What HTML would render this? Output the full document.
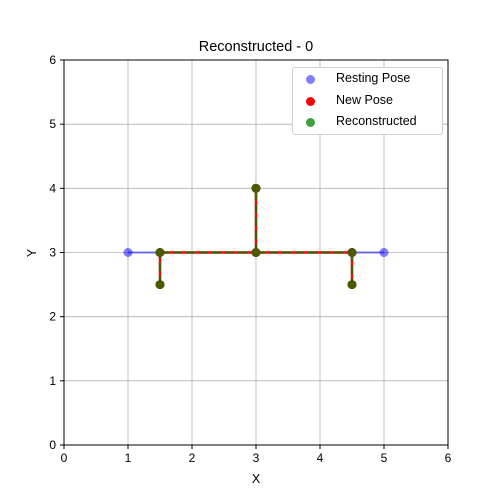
<!DOCTYPE html>
<html><head><meta charset="utf-8"><style>body{margin:0;background:#fff}svg{display:block;font-family:"Liberation Sans","DejaVu Sans",sans-serif}</style></head>
<body>
<svg id="c" width="500" height="500"></svg>
<script>
const ticks=[0,1,2,3,4,5,6];
const restX=[1,1.5,3,3,4.5,5];
const restY=[3,3,3,4,3,3];
const restEdges=[[0,1],[1,2],[2,3],[2,4],[4,5]];
const newX=[1.5,1.5,3,3,4.5,4.5];
const newY=[2.5,3,3,4,3,2.5];
const newEdges=[[0,1],[1,2],[2,3],[2,4],[4,5]];
const recX=[1.5,1.5,3,3,4.5,4.5];
const recY=[2.5,3,3,4,3,2.5];
const NS="http://www.w3.org/2000/svg";
const svg=document.getElementById('c');
const L=64,R=448,T=60,B=445;
const sx=v=>L+(v-0)/6*(R-L), sy=v=>B-(v-0)/6*(B-T);
function mk(t,a,p){const e=document.createElementNS(NS,t);for(const k in a)e.setAttribute(k,a[k]);(p||svg).appendChild(e);return e;}
ticks.forEach(t=>{
 let g=mk('line',{x1:sx(t),x2:sx(t),y1:T,y2:B,stroke:'#b0b0b0','stroke-width':0.8});
 
 g=mk('line',{x1:L,x2:R,y1:sy(t),y2:sy(t),stroke:'#b0b0b0','stroke-width':0.8});
 
 mk('line',{x1:sx(t),x2:sx(t),y1:B,y2:B+4,stroke:'#000'});
 mk('line',{x1:L-4,x2:L,y1:sy(t),y2:sy(t),stroke:'#000'});
 let tx=mk('text',{x:sx(t),y:B+17,'text-anchor':'middle','font-size':12});tx.textContent=t;
 
 tx=mk('text',{x:L-8,y:sy(t)+4,'text-anchor':'end','font-size':12});tx.textContent=t;
 
});
restEdges.forEach(([a,b])=>{const l=mk('line',{x1:sx(restX[a]),y1:sy(restY[a]),x2:sx(restX[b]),y2:sy(restY[b]),stroke:'#0000ff','stroke-opacity':0.5,'stroke-width':2});
 });
restX.forEach((x,i)=>{const c=mk('circle',{cx:sx(x),cy:sy(restY[i]),r:4.5,fill:'#0000ff','fill-opacity':0.5});
 });
newEdges.forEach(([a,b])=>{const l=mk('line',{x1:sx(newX[a]),y1:sy(newY[a]),x2:sx(newX[b]),y2:sy(newY[b]),stroke:'#ff0000','stroke-width':2.5});
 });
newX.forEach((x,i)=>{const c=mk('circle',{cx:sx(x),cy:sy(newY[i]),r:4.5,fill:'#ff0000'});
 });
newEdges.forEach(([a,b])=>{const l=mk('line',{x1:sx(recX[a]),y1:sy(recY[a]),x2:sx(recX[b]),y2:sy(recY[b]),stroke:'#008000','stroke-opacity':0.7,'stroke-width':2.5,'stroke-dasharray':'9,4'});
 });
recX.forEach((x,i)=>{const c=mk('circle',{cx:sx(x),cy:sy(recY[i]),r:4.5,fill:'#4b5a00'});
 });
const fr=mk('rect',{x:L,y:T,width:R-L,height:B-T,fill:'none',stroke:'#000','stroke-width':1});

const yt=mk('text',{x:36,y:253,'text-anchor':'middle','font-size':12.5,transform:'rotate(-90 36 253)'});yt.textContent='Y';

</script>
<div style="position:absolute;left:0;top:0;width:500px;height:500px;pointer-events:none;font-family:'Liberation Sans',sans-serif">
<div style="position:absolute;left:64px;width:384px;top:39px;text-align:center;font-size:14.5px">Reconstructed - 0</div>
<div style="position:absolute;left:64px;width:384px;top:472px;text-align:center;font-size:12.5px">X</div>
<div style="position:absolute;left:292px;top:67px;width:149px;height:66px;border:1px solid #d0d0d0;border-radius:3px;background:#fff;font-size:12.5px">
 <div style="position:absolute;left:14px;top:3px"><span style="position:absolute;left:-1px;top:4px;width:9px;height:9px;border-radius:50%;background:rgba(0,0,255,.5)"></span><span style="position:absolute;left:29px;white-space:nowrap">Resting Pose</span></div>
 <div style="position:absolute;left:14px;top:25px"><span style="position:absolute;left:-1px;top:4px;width:9px;height:9px;border-radius:50%;background:#f00"></span><span style="position:absolute;left:29px;white-space:nowrap">New Pose</span></div>
 <div style="position:absolute;left:14px;top:46px"><span style="position:absolute;left:-1px;top:4px;width:9px;height:9px;border-radius:50%;background:rgba(0,128,0,.75)"></span><span style="position:absolute;left:29px;white-space:nowrap">Reconstructed</span></div>
</div>
</div>
</body></html>
